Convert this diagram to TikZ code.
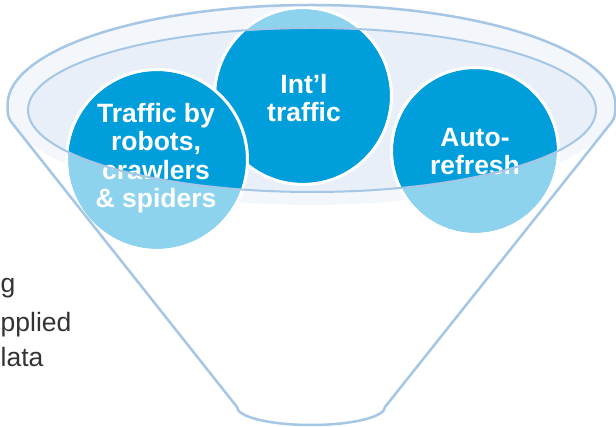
\documentclass[tikz,border=0pt]{standalone}
\usepackage{fontspec}
\setmainfont{Liberation Sans}
\definecolor{darkblue}{RGB}{0,158,218}
\definecolor{lightblue}{RGB}{142,211,238}
\definecolor{rimline}{RGB}{165,198,228}
\definecolor{innerfill}{RGB}{232,239,248}
\definecolor{outerfill}{RGB}{243,246,251}
\definecolor{graytext}{RGB}{51,51,51}
\tikzset{
  lbl/.style={font=\bfseries\fontsize{26.5}{28.5}\selectfont, text=white, align=center, inner sep=0pt},
  gtext/.style={font=\fontsize{26.5}{30}\selectfont, text=graytext, inner sep=0pt, anchor=base west},
  rim/.style={draw=rimline, line width=2.5pt, line join=round},
  ringborder/.style={draw=white, line width=3pt}
}
\begin{document}
\begin{tikzpicture}[x=1pt,y=-1pt]
\useasboundingbox (0,0) rectangle (616,427);
\clip (0,0) rectangle (616,427);
% rim fills
\fill[outerfill] (311.5,105) ellipse [x radius=304pt, y radius=100pt];
\fill[innerfill] (312,110) ellipse [x radius=284pt, y radius=82pt];
% middle circle
\fill[lightblue] (303,96) circle [radius=87pt];
\begin{scope}
  \clip (312,110) ellipse [x radius=284pt, y radius=82pt];
  \fill[darkblue] (303,96) circle [radius=87pt];
\end{scope}
\draw[ringborder] (303,96) circle [radius=88.5pt];
% left circle
\fill[lightblue] (157,160) circle [radius=89pt];
\begin{scope}
  \clip (312,110) ellipse [x radius=284pt, y radius=82pt];
  \fill[darkblue] (157,160) circle [radius=89pt];
\end{scope}
\draw[ringborder] (157,160) circle [radius=90.5pt];
% right circle
\fill[lightblue] (475,151) circle [radius=82pt];
\begin{scope}
  \clip (312,110) ellipse [x radius=284pt, y radius=82pt];
  \fill[darkblue] (475,151) circle [radius=82pt];
\end{scope}
\draw[ringborder] (475,151) circle [radius=83.5pt];
% labels
\node[lbl] (intl) at (304,97.9) {Int’l\\traffic};
\node[lbl] (robots) at (156,158.2) {Traffic by\\robots,\\crawlers\\\& spiders};
\node[lbl] (auto) at (475,151.3) {Auto-\\refresh};
% partial text at left
\node[gtext] (w1) at (0.5,293) {g};
\node[gtext] (w2) at (0.5,331.5) {pplied};
\node[gtext] (w3) at (0.5,366.5) {lata};
% inner rim outline
\draw[draw=rimline, line width=2pt] (312,110) ellipse [x radius=284pt, y radius=82pt];
% funnel outline
\draw[rim] (237,407) -- (12,123)
  .. controls (7.3,117) and (7.5,112) .. (7.5,105)
  arc [start angle=180, end angle=0, x radius=304pt, y radius=100pt]
  .. controls (615.5,112) and (615.7,117) .. (611,123)
  -- (385,407)
  arc [start angle=0, end angle=-180, x radius=74pt, y radius=18pt]
  -- cycle;
\end{tikzpicture}
\end{document}
